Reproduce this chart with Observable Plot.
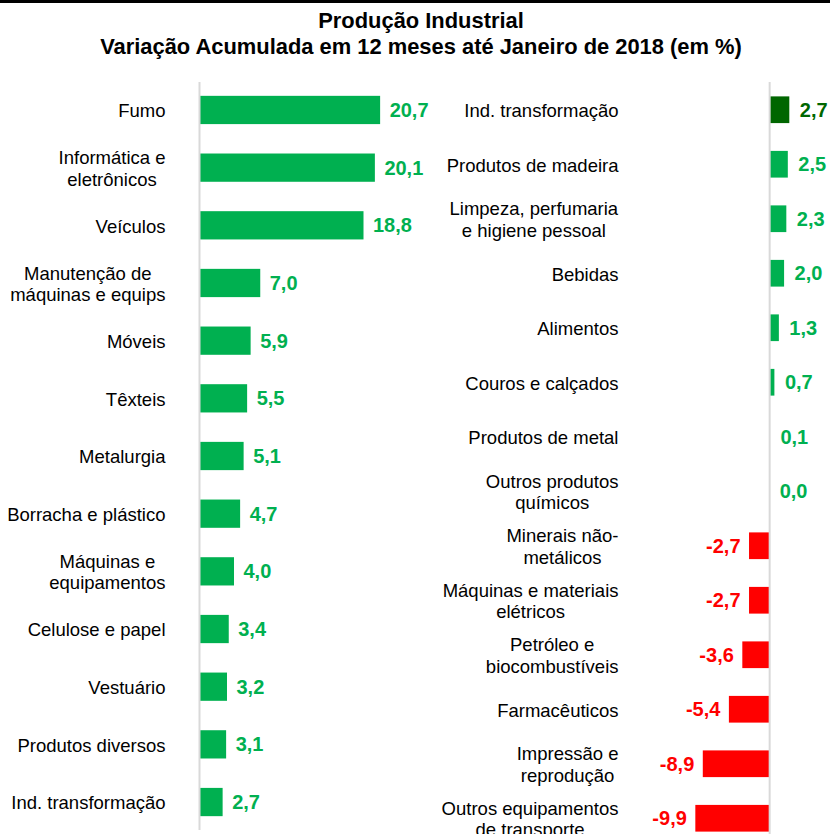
<!DOCTYPE html>
<html>
<head>
<meta charset="utf-8">
<script src="https://cdn.jsdelivr.net/npm/d3@7"></script>
<script src="https://cdn.jsdelivr.net/npm/@observablehq/plot@0.6"></script>
<style>
  html, body { margin: 0; padding: 0; background: #fff; overflow: hidden; width: 830px; height: 834px; }
  #wrap { position: relative; width: 830px; height: 834px; overflow: hidden; }
  #topbar { position: absolute; left: 0; top: 0; width: 830px; height: 3px; background: #000; }
  #title { position: absolute; left: 6px; top: 8px; width: 830px; text-align: center;
    font-family: "Liberation Sans", Arial, sans-serif; font-weight: bold; font-size: 21.9px;
    line-height: 26px; color: #000; }
  #left { position: absolute; left: 0; top: 82px; }
  #right { position: absolute; left: 420px; top: 82px; }
  svg { overflow: visible; display: block; }
</style>
</head>
<body>
<div id="wrap">
  <div id="topbar"></div>
  <div id="title">Produção Industrial<br>Variação Acumulada em 12 meses até Janeiro de 2018 (em %)</div>
  <div id="left"></div>
  <div id="right"></div>
</div>
<script>
// ---- Data ----
const leftCategories = [
  "Fumo",
  "Informática e\neletrônicos",
  "Veículos",
  "Manutenção de\nmáquinas e equips",
  "Móveis",
  "Têxteis",
  "Metalurgia",
  "Borracha e plástico",
  "Máquinas e\nequipamentos",
  "Celulose e papel",
  "Vestuário",
  "Produtos diversos",
  "Ind. transformação"
];
const leftValues = [20.7, 20.1, 18.8, 7.0, 5.9, 5.5, 5.1, 4.7, 4.0, 3.4, 3.2, 3.1, 2.7];

const rightCategories = [
  "Ind. transformação",
  "Produtos de madeira",
  "Limpeza, perfumaria\ne higiene pessoal",
  "Bebidas",
  "Alimentos",
  "Couros e calçados",
  "Produtos de metal",
  "Outros produtos\nquímicos",
  "Minerais não-\nmetálicos",
  "Máquinas e materiais\nelétricos",
  "Petróleo e\nbiocombustíveis",
  "Farmacêuticos",
  "Impressão e\nreprodução",
  "Outros equipamentos\nde transporte"
];
const rightValues = [2.7, 2.5, 2.3, 2.0, 1.3, 0.7, 0.1, 0.0, -2.7, -2.7, -3.6, -5.4, -8.9, -9.9];
const rightHighlight = "Ind. transformação";

const GREEN = "#00B050", DARK_GREEN = "#006600", RED = "#FF0000", AXIS_GRAY = "#d9d9d9";

// ---- Helpers ----
const fmt = v => v.toFixed(1).replace(".", ",");
const leftData = leftCategories.map((c, i) => ({category: c, value: leftValues[i]}));
const rightData = rightCategories.map((c, i) => ({category: c, value: rightValues[i]}));
const rightColor = d => d.category === rightHighlight ? DARK_GREEN : (d.value < 0 ? RED : GREEN);

const baseStyle = {fontFamily: "'Liberation Sans', Arial, sans-serif", fontSize: "18.5px", color: "#000", background: "transparent", overflow: "visible"};

function centerMultiline(svg) {
  svg.querySelectorAll("g[aria-label^='y-axis'] text").forEach(t => {
    const spans = t.querySelectorAll("tspan");
    if (spans.length < 2) return;
    const w = t.getBBox().width;
    t.setAttribute("text-anchor", "middle");
    spans.forEach(s => s.setAttribute("x", -w / 2));
  });
}

// ---- Left panel ----
const leftPlot = Plot.plot({
  width: 420,
  height: 748,
  marginLeft: 199,
  marginRight: 11,
  marginTop: 0,
  marginBottom: 0,
  style: baseStyle,
  x: {domain: [0, 24], axis: null},
  y: {domain: leftCategories, paddingInner: 0.51, paddingOuter: 0.24, round: false, axis: null},
  marks: [
    Plot.barX(leftData, {x: "value", y: "category", fill: GREEN}),
    Plot.ruleX([0], {stroke: AXIS_GRAY, strokeWidth: 2}),
    Plot.text(leftData, {x: "value", y: "category", text: d => fmt(d.value), dx: 9, textAnchor: "start",
      fill: GREEN, fontWeight: "bold", fontSize: 20}),
    Plot.axisY({tickSize: 0, tickPadding: 34, fontSize: 18.5, lineHeight: 1.15, fill: "#000", label: null})
  ]
});
document.getElementById("left").appendChild(leftPlot);
centerMultiline(leftPlot);

// ---- Right panel ----
const rightPlot = Plot.plot({
  width: 410,
  height: 764,
  marginLeft: 200,
  marginRight: 31,
  marginTop: 0,
  marginBottom: 0,
  style: baseStyle,
  x: {domain: [-20, 4], axis: null},
  y: {domain: rightCategories, paddingInner: 0.51, paddingOuter: 0.264, round: false, axis: null},
  marks: [
    Plot.barX(rightData, {x: "value", y: "category", fill: rightColor}),
    Plot.ruleX([0], {stroke: AXIS_GRAY, strokeWidth: 2}),
    Plot.text(rightData.filter(d => d.value >= 0), {x: "value", y: "category", text: d => fmt(d.value),
      dx: 10, textAnchor: "start", fill: rightColor, fontWeight: "bold", fontSize: 20}),
    Plot.text(rightData.filter(d => d.value < 0), {x: "value", y: "category", text: d => fmt(d.value),
      dx: -9, textAnchor: "end", fill: rightColor, fontWeight: "bold", fontSize: 20}),
    Plot.axisY({tickSize: 0, tickPadding: 2, fontSize: 18.5, lineHeight: 1.15, fill: "#000", label: null})
  ]
});
document.getElementById("right").appendChild(rightPlot);
centerMultiline(rightPlot);
</script>
</body>
</html>
